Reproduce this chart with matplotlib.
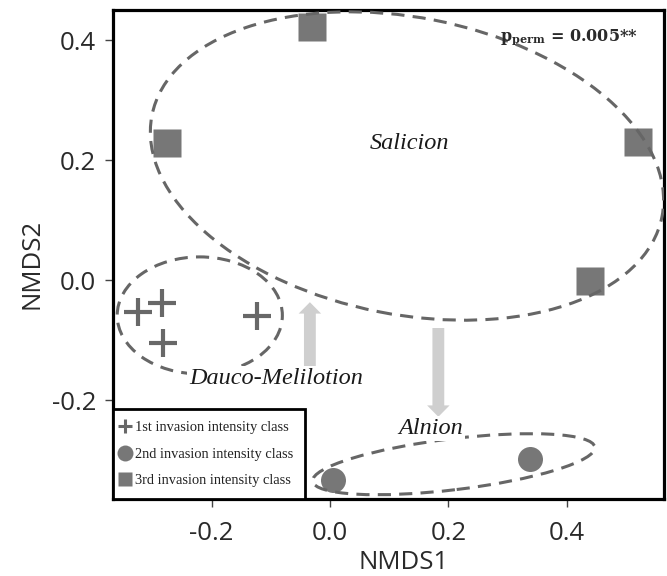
import matplotlib
matplotlib.use('Agg')
import matplotlib.pyplot as plt
from matplotlib.patches import Ellipse, FancyArrow
from matplotlib.lines import Line2D

# ---- data ----
plus_x = [-0.324, -0.284, -0.282, -0.123]
plus_y = [-0.053, -0.038, -0.105, -0.060]
circle_x = [0.005, 0.338]
circle_y = [-0.333, -0.298]
square_x = [-0.030, -0.275, 0.520, 0.439]
square_y = [0.422, 0.228, 0.230, -0.002]

class_labels = ['1st invasion intensity class',
                '2nd invasion intensity class',
                '3rd invasion intensity class']

group_names = ['Salicion', 'Dauco-Melilotion', 'Alnion']
group_label_x = [0.135, -0.091, 0.170]
group_label_y = [0.228, -0.165, -0.247]

# ellipses: centre, width, height, angle (deg)
ell_cx = [0.130, -0.220, 0.209]
ell_cy = [0.190, -0.059, -0.307]
ell_w = [0.878, 0.279, 0.480]
ell_h = [0.495, 0.195, 0.085]
ell_angle = [-11.0, 0.0, 6.8]

arrow_x = [-0.034, 0.183]
arrow_y0 = [-0.145, -0.080]
arrow_y1 = [-0.037, -0.228]

xticks = [-0.2, 0.0, 0.2, 0.4]
yticks = [-0.2, 0.0, 0.2, 0.4]
xlim = (-0.3666, 0.5642)
ylim = (-0.365, 0.450)

p_label = r'$\mathbf{p}_{\mathbf{perm}}$ = 0.005**'
p_pos = (0.288, 0.405)

# ---- figure ----
plt.rcParams['mathtext.fontset'] = 'dejavuserif'
W, H = 667, 576
fig = plt.figure(figsize=(W / 100, H / 100), dpi=100)
ax = fig.add_axes([113 / W, (H - 499) / H, (664 - 113) / W, (499 - 10) / H])
ax.set_xlim(*xlim)
ax.set_ylim(*ylim)

mark_col = '#777777'
plus_col = '#686868'
ell_col = '#666666'
arrow_col = '#cfcfcf'
serif = ['Liberation Serif', 'DejaVu Serif']

ax.plot(plus_x, plus_y, ls='none', marker='+', color=plus_col,
        markersize=20, mew=3.0, zorder=3)
ax.plot(circle_x, circle_y, ls='none', marker='o', color=mark_col,
        markersize=18, mec='none', zorder=3)
ax.plot(square_x, square_y, ls='none', marker='s', color=mark_col,
        markersize=20, mec='none', zorder=3)

for cx, cy, w, h, a in zip(ell_cx, ell_cy, ell_w, ell_h, ell_angle):
    e = Ellipse((cx, cy), w, h, angle=a, fill=False, edgecolor=ell_col,
                lw=2.2, linestyle=(0, (4.3, 2.7)), zorder=4)
    ax.add_patch(e)

for x, y0, y1 in zip(arrow_x, arrow_y0, arrow_y1):
    ax.add_patch(FancyArrow(x, y0, 0, y1 - y0, width=0.020, head_width=0.038,
                            head_length=0.019, length_includes_head=True,
                            color=arrow_col, lw=0, zorder=2))

for name, x, y in zip(group_names, group_label_x, group_label_y):
    bb = None if name == 'Salicion' else dict(facecolor='white', edgecolor='none', pad=1.5)
    ax.text(x, y, name, family=serif, style='italic', fontsize=17.5,
            ha='center', va='center', color='#1a1a1a', bbox=bb, zorder=5)

ax.text(p_pos[0], p_pos[1], p_label, family=['DejaVu Serif'], fontweight='bold',
        fontsize=11.5, ha='left', va='center', color='#2a2a2a', zorder=5)

# axes styling
for s in ax.spines.values():
    s.set_linewidth(2.3)
    s.set_color('black')
ax.set_xticks(xticks)
ax.set_yticks(yticks)
ax.set_xticklabels([f'{v:.1f}' for v in xticks])
ax.set_yticklabels([f'{v:.1f}' for v in yticks])
ax.tick_params(direction='out', length=6, width=1, color='#444444',
               labelsize=18.5, labelcolor='#2a2a2a', pad=6)
for lab in ax.get_xticklabels() + ax.get_yticklabels():
    lab.set_family(['Open Sans', 'DejaVu Sans'])
ax.tick_params(axis='x', pad=10)

ax.set_xlabel('NMDS1', family=['Open Sans', 'DejaVu Sans'], fontsize=18.5, color='#2a2a2a')
ax.set_ylabel('NMDS2', family=['Open Sans', 'DejaVu Sans'], fontsize=18.5, color='#2a2a2a')
ax.xaxis.set_label_coords(0.528, -0.104)
ax.yaxis.set_label_coords(-0.125, 0.48)

handles = [
    Line2D([], [], ls='none', marker='+', color=plus_col, markersize=10, mew=2.2),
    Line2D([], [], ls='none', marker='o', color=mark_col, markersize=11.5, mec='none'),
    Line2D([], [], ls='none', marker='s', color=mark_col, markersize=10.5, mec='none'),
]
leg = ax.legend(handles, class_labels, loc='lower left', bbox_to_anchor=(0, 0),
                borderaxespad=0, frameon=True, fancybox=False, framealpha=1,
                edgecolor='black', prop={'family': serif, 'size': 10.4},
                handlelength=0.1, handletextpad=0.63, borderpad=0.8,
                labelspacing=0.94)
leg.get_frame().set_linewidth(2.0)
for t in leg.get_texts():
    t.set_color('#222222')
leg.set_zorder(6)

fig.savefig('out.png', dpi=100)
